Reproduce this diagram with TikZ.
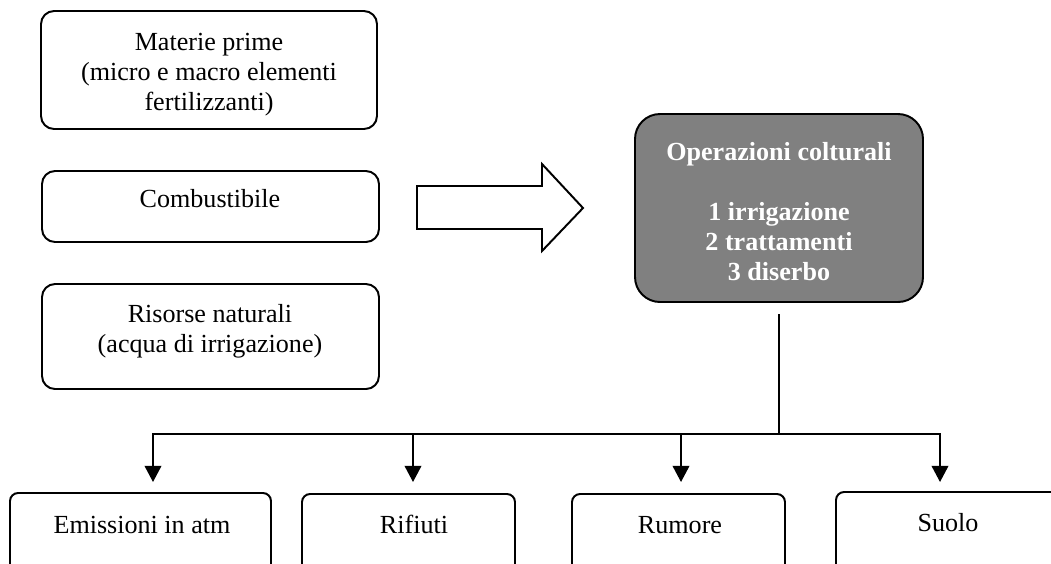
\documentclass[tikz,border=0pt]{standalone}
\usepackage{fontspec}
\setmainfont{Liberation Serif}
\usetikzlibrary{arrows.meta,fit}

\tikzset{
  box/.style={draw, line width=0.9pt, inner sep=0pt, rounded corners=6pt},
  outbox/.style={draw, line width=0.9pt, inner sep=0pt, rounded corners=3.7pt},
  opsbox/.style={draw, line width=0.9pt, inner sep=0pt, rounded corners=11.5pt, fill=black!50},
  txt/.style={align=center, inner sep=0pt, font=\fontsize{12}{13.8}\selectfont},
  opstxt/.style={txt, text=white, font=\fontsize{12}{13.8}\selectfont\bfseries},
  link/.style={line width=0.9pt},
  flow/.style={link, -{Triangle[width=7.6pt,length=7.4pt]}},
  bigarrow/.style={draw, line width=0.9pt, fill=white, line join=miter}
}

\begin{document}
\begin{tikzpicture}[x=0.46pt, y=-0.46pt]
  \clip (0,0) rectangle (1051,563);
  \fill[white] (0,0) rectangle (1051,563);

  % inputs (multi-line texts are placed by the baseline of their last line)
  \node[box, fit={(41,11) (377,129)}] (raw) {};
  \node[txt, anchor=base] (rawt) at (209,110) {Materie prime\\(micro e macro elementi\\fertilizzanti)};
  \node[box, fit={(42,171) (379,242)}] (fuel) {};
  \node[txt, anchor=base] (fuelt) at (210,207) {Combustibile};
  \node[box, fit={(42,284) (379,389)}] (nat) {};
  \node[txt, anchor=base] (natt) at (210,352) {Risorse naturali\\(acqua di irrigazione)};

  % block arrow towards the operations
  \draw[bigarrow] (417,186) -- (542,186) -- (542,164) -- (583,208)
                  -- (542,251) -- (542,229) -- (417,229) -- cycle;

  % operations
  \node[opsbox, fit={(635,114) (923,302)}] (ops) {};
  \node[opstxt, anchor=base] (opst) at (779,280)
    {Operazioni colturali\\[13.8pt]1 irrigazione\\2 trattamenti\\3 diserbo};

  % outputs
  \node[outbox, fit={(10,493) (271,580)}] (emi) {};
  \node[txt, anchor=base] (emit) at (142,533) {Emissioni in atm};
  \node[outbox, fit={(302,494) (515,580)}] (rif) {};
  \node[txt, anchor=base] (rift) at (414,533) {Rifiuti};
  \node[outbox, fit={(572,494) (785,580)}] (rum) {};
  \node[txt, anchor=base] (rumt) at (680,533) {Rumore};
  \node[outbox, fit={(836,492) (1065,580)}] (suo) {};
  \node[txt, anchor=base] (suot) at (948,531) {Suolo};

  % distribution lines
  \coordinate (stem) at (779,314);
  \coordinate (hub) at (779,434);
  \coordinate (t1) at (153,482);
  \coordinate (t2) at (413,482);
  \coordinate (t3) at (681,482);
  \coordinate (t4) at (940,482);
  \draw[link] (stem) -- (hub);
  \draw[flow] (hub) -| (t1);
  \draw[flow] (hub) -| (t2);
  \draw[flow] (hub) -| (t3);
  \draw[flow] (hub) -| (t4);
\end{tikzpicture}
\end{document}
